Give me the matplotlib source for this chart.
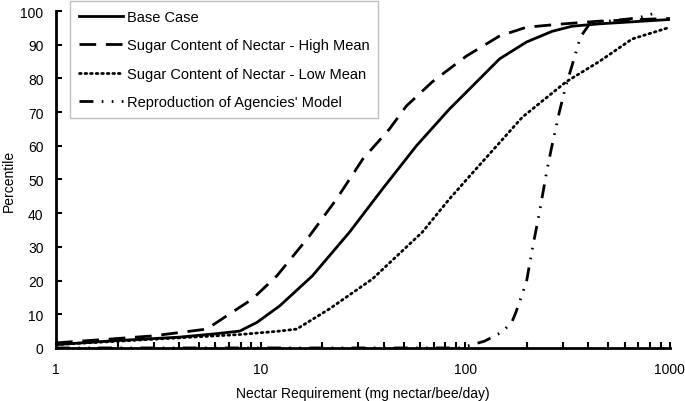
#!/usr/bin/env python3
"""
Nectar requirement percentile curves (log x axis)
"""

import matplotlib
matplotlib.use("Agg")
import matplotlib.pyplot as plt
from matplotlib.ticker import LogLocator, FixedLocator, NullFormatter

plt.rcParams['font.family'] = ['Liberation Sans', 'DejaVu Sans']

# Base case
base_x = [1, 2, 4, 6, 7.9, 9.6, 12.4, 17.9, 27.2, 39.4, 57.7, 83.6, 105, 147, 199, 266, 333, 450, 1000]
base_y = [1, 2.2, 3.2, 4.2, 5, 7.6, 12.5, 21.4, 34.4, 47.2, 60, 70.9, 76.9, 85.8, 90.8, 94, 95.5, 96.2, 97.5]

# Sugar content of nectar - high mean
high_x = [1, 1.3, 2, 3, 5.45, 7.3, 9.1, 12, 17.3, 23.5, 31.5, 42.6, 51.5, 69, 101, 147, 199, 288, 451, 790, 1000]
high_y = [1.5, 2, 2.8, 3.6, 5.6, 10.7, 14.5, 21.4, 33.2, 44.2, 56, 65, 71.8, 79, 86.6, 92.6, 95.2, 96.1, 97, 97.6, 97.8]

# Sugar content of nectar - low mean
low_x = [1, 2, 4, 8, 12.4, 15, 21.7, 35.2, 61.7, 83.6, 105, 190, 311, 451, 653, 1000]
low_y = [1, 2, 3, 4, 5, 5.6, 11.6, 20.5, 34.4, 44.2, 51, 68.5, 79, 85, 91.7, 95.2]

# Reproduction of agencies' model
agency_x = [1, 95, 124, 151, 169, 177, 199, 212, 230, 251, 263, 288, 311, 333, 360, 372, 403, 500, 700, 884]
agency_y = [0, 0, 2, 4.7, 7.7, 10.7, 19.6, 29, 40, 53, 59, 70, 78, 84, 91, 93, 96, 97, 98, 99.7]

fig = plt.figure(figsize=(6.85, 4.02), dpi=100)
ax = fig.add_axes([0.0818, 0.132, 0.8962, 0.838])

lw = 2.0
ax.plot(base_x, base_y, color='black', lw=lw, label='Base Case')
ax.plot(high_x, high_y, color='black', lw=lw, dashes=(6, 3.5), label='Sugar Content of Nectar - High Mean')
ax.plot(low_x, low_y, color='black', lw=lw, dashes=(0.6, 1.4), dash_capstyle='round',
        label='Sugar Content of Nectar - Low Mean')
ax.plot(agency_x, agency_y, color='black', lw=lw, dashes=(5, 3, 0.6, 3, 0.6, 3),
        label="Reproduction of Agencies' Model")

ax.set_xscale('log')
ax.set_xlim(1, 1000)
ax.set_ylim(0, 100)
ax.xaxis.set_major_locator(FixedLocator([1, 10, 100, 1000]))
ax.set_xticklabels(['1', '10', '100', '1000'])
ax.xaxis.set_minor_locator(LogLocator(base=10, subs=range(2, 10)))
ax.xaxis.set_minor_formatter(NullFormatter())
ax.set_yticks(range(0, 101, 10))

for side in ['top', 'right']:
    ax.spines[side].set_visible(False)
for side in ['left', 'bottom']:
    ax.spines[side].set_color('black')
    ax.spines[side].set_linewidth(2)
    ax.spines[side].set_zorder(5)

ax.tick_params(axis='both', which='both', direction='in', width=1.5, length=4,
               labelsize=10, color='black')
ax.tick_params(axis='x', which='major', pad=10)
ax.tick_params(axis='y', which='major', pad=9)

ax.set_xlabel('Nectar Requirement (mg nectar/bee/day)', fontsize=10, labelpad=7)
ax.set_ylabel('Percentile', fontsize=10, labelpad=3)

leg = ax.legend(loc='upper left', bbox_to_anchor=(70 / 685, 1 - 2 / 402),
                bbox_transform=fig.transFigure, fontsize=10.5, handlelength=3.0,
                labelspacing=1.0, borderpad=0.6, handletextpad=0.3,
                borderaxespad=0, fancybox=False, framealpha=1)
leg.get_frame().set_edgecolor('#bfbfbf')
leg.get_frame().set_linewidth(1)

plt.savefig('out.png', dpi=100)
